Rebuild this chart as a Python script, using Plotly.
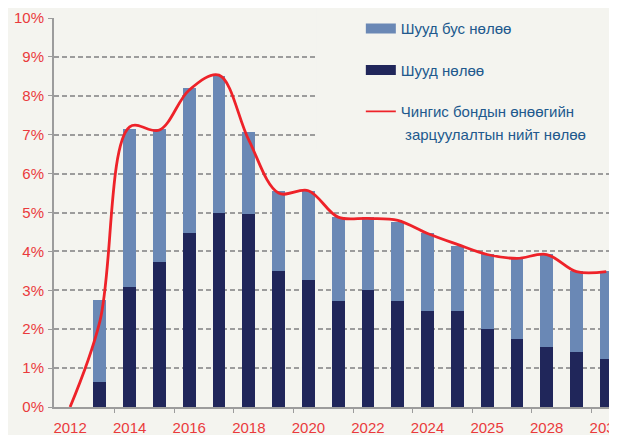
import plotly.graph_objects as go

years = list(range(2012, 2031))
tick_years = [2012, 2014, 2016, 2018, 2020, 2022, 2024, 2026, 2028, 2030]
tick_labels = ["2012", "2014", "2016", "2018", "2020", "2022", "2024", "2025", "2028", "2030"]

# percent values
total = [None, 2.75, 7.15, 7.15, 8.20, 8.51, 7.07, 5.55, 5.55, 4.88, 4.88, 4.76,
         4.47, 4.14, 3.93, 3.80, 3.93, 3.49, 3.49]
direct = [None, 0.64, 3.08, 3.73, 4.47, 4.99, 4.96, 3.50, 3.26, 2.72, 3.00, 2.72,
          2.47, 2.47, 2.00, 1.75, 1.54, 1.41, 1.23]
line_total = [0.0, 2.2, 7.2, 7.12, 8.15, 8.53, 6.86, 5.50, 5.56, 4.88, 4.85, 4.80,
              4.46, 4.18, 3.92, 3.82, 3.92, 3.48, 3.48]

direct_f = [None if d is None else d / 100 for d in direct]
indirect_f = [None if t is None else (t - d) / 100 for t, d in zip(total, direct)]
line_f = [v / 100 for v in line_total]

name_indirect = "Шууд бус нөлөө"
name_direct = "Шууд нөлөө"
name_line_1 = "Чингис бондын өнөөгийн"
name_line_2 = "\u00a0зарцуулалтын нийт нөлөө"

c_ind = "#6a88b5"
c_dir = "#20265a"
c_red = "#ee2229"
c_lbl = "#ea3a3c"
c_leg = "#21598d"
c_grid = "#9c9c9c"
bg = "#f4f4ef"
font_family = "Liberation Sans, Arial, sans-serif"

fig = go.Figure()
fig.add_trace(go.Bar(x=years, y=direct_f, marker=dict(color=c_dir, line=dict(width=0)),
                     width=0.43, showlegend=False, name=name_direct))
fig.add_trace(go.Bar(x=years, y=indirect_f, marker=dict(color=c_ind, line=dict(width=0)),
                     width=0.43, showlegend=False, name=name_indirect))
fig.add_trace(go.Scatter(x=years, y=line_f, mode="lines", showlegend=False,
                         name=name_line_1 + " " + name_line_2,
                         line=dict(color=c_red, width=2.8, shape="spline", smoothing=1.0)))
# legend entries
fig.add_trace(go.Scatter(x=[None], y=[None], mode="lines", name=name_indirect,
                         line=dict(color=c_ind, width=11), legendgroup="a"))
fig.add_trace(go.Scatter(x=[None], y=[None], mode="lines", name=name_direct,
                         line=dict(color=c_dir, width=11), legendgroup="b"))
fig.add_trace(go.Scatter(x=[None], y=[None], mode="lines", name=name_line_1,
                         line=dict(color=c_red, width=1.6), legendgroup="c"))
fig.add_trace(go.Scatter(x=[None], y=[None], mode="lines", name=name_line_2,
                         line=dict(color="rgba(0,0,0,0)", width=0), legendgroup="c"))

# opaque legend area that hides the gridlines behind the legend
fig.add_shape(type="rect", xref="paper", yref="paper", x0=0.467, x1=1.03, y0=0.661, y1=1.04,
              fillcolor=bg, line=dict(width=0), layer="above")

fig.update_layout(
    width=617, height=435,
    margin=dict(l=46, r=8, t=10, b=36, autoexpand=False),
    paper_bgcolor=bg, plot_bgcolor=bg,
    barmode="stack",
    font=dict(family=font_family, size=15, color=c_lbl),
    legend=dict(x=0.545, y=1.015, xanchor="left", yanchor="top",
                bgcolor="rgba(0,0,0,0)", font=dict(size=15, color=c_leg),
                tracegroupgap=19, valign="middle", traceorder="grouped"),
    xaxis=dict(range=[2011.46, 2030.36], tickmode="array", tickvals=tick_years,
               ticktext=tick_labels, ticks="", showgrid=False, zeroline=False,
               showline=True, linecolor=c_grid, linewidth=1.5,
               tickfont=dict(color=c_lbl, size=15), ticklabelstandoff=6,
               minor=dict(tickmode="array", tickvals=[y + 1.5 for y in range(2012, 2030, 2)],
                          ticks="outside", ticklen=4, tickcolor=c_grid, showgrid=False)),
    yaxis=dict(range=[0, 0.10], tickvals=[i / 100 for i in range(0, 11)], tickformat=".0%",
               showgrid=True, gridcolor=c_grid, gridwidth=1.5, griddash="5px,3px",
               zeroline=False, showline=True, linecolor=c_grid, linewidth=2,
               ticks="outside", ticklen=4, tickcolor=c_grid, ticklabelstandoff=1,
               tickfont=dict(color=c_lbl, size=15)),
)

fig.write_html("out.html")
